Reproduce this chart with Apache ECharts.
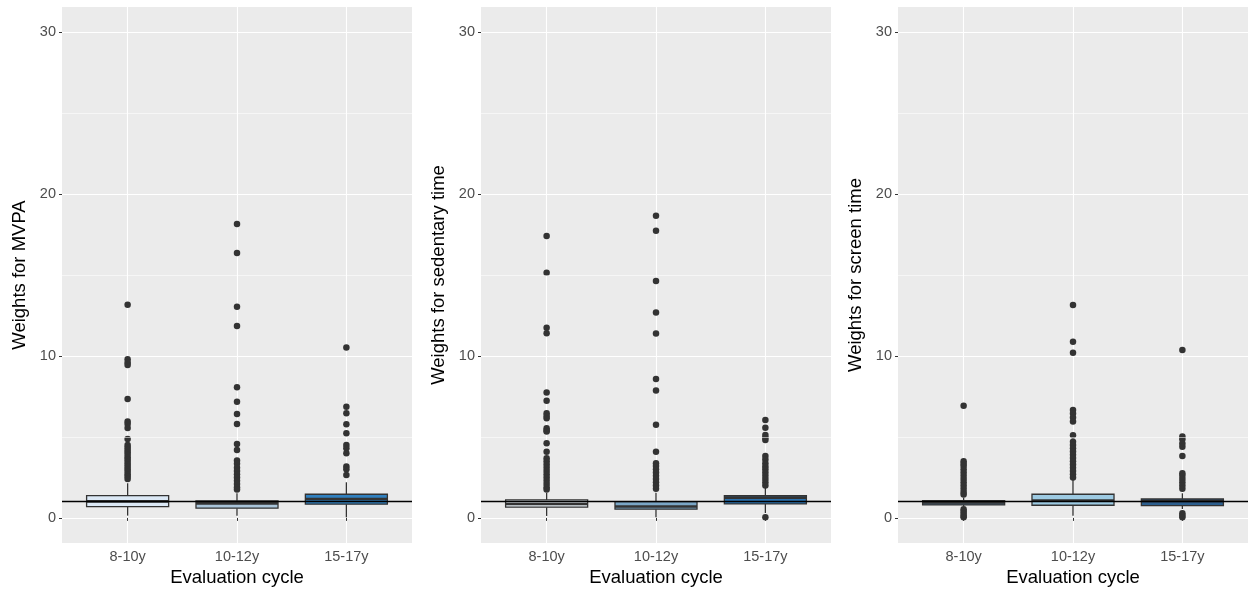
<!DOCTYPE html>
<html><head><meta charset="utf-8">
<script src="https://cdn.jsdelivr.net/npm/echarts@6/dist/echarts.min.js"></script>
<style>html,body{margin:0;padding:0;background:#fff}#c{width:1250px;height:595px}</style>
</head><body><div id="c"></div>
<script>
const categories = ['8-10y', '10-12y', '15-17y'];
const yTicks = [0, 10, 20, 30];
const yMinorLines = [5, 15, 25];
const referenceValue = 1;
const panelTitles = ['Weights for MVPA', 'Weights for sedentary time', 'Weights for screen time'];
const xTitle = 'Evaluation cycle';

// boxes: [lowerWhisker, Q1, median, Q3, upperWhisker] per category
const mvpaBoxes = [[0.14, 0.70, 1.02, 1.38, 2.14], [0.14, 0.60, 0.90, 1.05, 1.52], [0.04, 0.85, 1.17, 1.46, 2.20]];
const mvpaOutliers = [
  [13.17, 9.8, 9.6, 9.44, 7.35, 5.95, 5.8, 5.55, 4.88, 4.5, 4.35, 4.2, 4.05, 3.9, 3.75, 3.6, 3.45, 3.3, 3.15, 3.0, 2.85, 2.7, 2.55, 2.4],
  [18.15, 16.36, 13.04, 11.85, 8.07, 7.18, 6.42, 5.8, 4.57, 4.2, 3.55, 3.35, 3.1, 2.9, 2.7, 2.5, 2.3, 2.1, 1.9, 1.75],
  [10.53, 6.87, 6.46, 5.78, 5.23, 4.5, 4.3, 4.0, 3.17, 3.0, 2.65]
];
const sedBoxes = [[0.12, 0.66, 0.86, 1.11, 1.55], [0.04, 0.54, 0.70, 1.01, 1.55], [0.30, 0.86, 1.25, 1.38, 1.90]];
const sedOutliers = [
  [17.41, 15.14, 11.75, 11.4, 7.74, 7.24, 6.46, 6.3, 6.15, 5.54, 5.4, 5.33, 4.61, 4.09, 3.68, 3.5, 3.3, 3.1, 2.9, 2.7, 2.5, 2.3, 2.1, 1.9, 1.75],
  [18.66, 17.74, 14.63, 12.68, 11.38, 8.58, 7.86, 5.76, 4.09, 3.37, 3.2, 3.0, 2.8, 2.6, 2.4, 2.2, 2.0, 1.8],
  [6.05, 5.57, 5.12, 4.95, 4.81, 3.83, 3.6, 3.37, 3.17, 3.0, 2.8, 2.6, 2.4, 2.2, 2.0, 0.04]
];
const screenBoxes = [[0.70, 0.80, 0.95, 1.07, 1.25], [0.14, 0.78, 1.07, 1.46, 2.35], [0.55, 0.76, 1.05, 1.17, 1.52]];
const screenOutliers = [
  [6.93, 3.5, 3.35, 3.2, 3.0, 2.8, 2.6, 2.4, 2.2, 2.0, 1.8, 1.6, 1.45, 0.53, 0.4, 0.25, 0.12, 0.04],
  [13.15, 10.88, 10.2, 6.67, 6.45, 6.2, 5.95, 5.1, 4.71, 4.5, 4.3, 4.1, 3.9, 3.7, 3.5, 3.3, 3.1, 2.9, 2.7, 2.5],
  [10.37, 5.02, 4.85, 4.6, 4.4, 3.83, 2.76, 2.6, 2.4, 2.2, 2.0, 1.8, 0.29, 0.15, 0.04]
];

const panels = [
  {boxes: mvpaBoxes, outliers: mvpaOutliers, colors: ['#dbe8f5', '#a9c4d9', '#3080bf']},
  {boxes: sedBoxes, outliers: sedOutliers, colors: ['#e4ecf3', '#7aa6c6', '#2a72b0']},
  {boxes: screenBoxes, outliers: screenOutliers, colors: ['#4f6f8c', '#9dcae2', '#2b5d8c']}
];

const lefts = [62, 481, 898];
const FONT = 'Liberation Sans, Arial, sans-serif';
const grids = [], xAxes = [], yAxes = [], series = [];

panels.forEach((p, i) => {
  grids.push({left: lefts[i], top: 7, width: 350, height: 536, show: true, backgroundColor: '#ebebeb', borderWidth: 0});
  xAxes.push({
    gridIndex: i, type: 'value', min: 0.4, max: 3.6,
    name: xTitle, nameLocation: 'middle', nameGap: 25,
    nameTextStyle: {fontSize: 18.5, color: '#000', fontFamily: FONT},
    axisLine: {show: false},
    axisTick: {show: true, length: 3, lineStyle: {color: '#333', width: 1}, customValues: [1, 2, 3]},
    axisLabel: {customValues: [1, 2, 3], formatter: v => categories[Math.round(v) - 1], color: '#4d4d4d', fontSize: 14.5, margin: 6, fontFamily: FONT},
    splitLine: {show: true, lineStyle: {color: '#fff', width: 1.1}}
  });
  yAxes.push({
    gridIndex: i, type: 'value', min: -1.55, max: 31.55,
    name: panelTitles[i], nameLocation: 'middle', nameGap: 33,
    nameTextStyle: {fontSize: 18.5, color: '#000', fontFamily: FONT},
    axisLine: {show: false},
    axisTick: {show: true, length: 3, lineStyle: {color: '#333', width: 1}, customValues: yTicks},
    axisLabel: {customValues: yTicks, color: '#4d4d4d', fontSize: 14.5, margin: 6, fontFamily: FONT},
    splitLine: {show: true, lineStyle: {color: '#fff', width: 1.1}}
  });
  // minor grid lines
  series.push({
    type: 'scatter', xAxisIndex: i, yAxisIndex: i, data: [], z: 1, silent: true,
    markLine: {silent: true, symbol: ['none', 'none'], label: {show: false}, animation: false,
      lineStyle: {color: '#fff', width: 0.55, type: 'solid'},
      data: yMinorLines.map(v => ({yAxis: v}))}
  });
  const colors = p.colors;
  series.push({
    type: 'custom', xAxisIndex: i, yAxisIndex: i, z: 3,
    data: p.boxes.map((b, k) => [k + 1].concat(b)),
    encode: {x: 0, y: [1, 2, 3, 4, 5]},
    renderItem: function (params, api) {
      const x = api.value(0);
      const lo = api.value(1), q1 = api.value(2), med = api.value(3), q3 = api.value(4), hi = api.value(5);
      const hw = 0.375;
      const tl = api.coord([x - hw, q3]);
      const br = api.coord([x + hw, q1]);
      const mL = api.coord([x - hw, med]);
      const mR = api.coord([x + hw, med]);
      const pHi = api.coord([x, hi]), pQ3 = api.coord([x, q3]), pQ1 = api.coord([x, q1]), pLo = api.coord([x, lo]);
      const ls = {stroke: '#333333', lineWidth: 1.3};
      return {type: 'group', children: [
        {type: 'line', shape: {x1: pHi[0], y1: pHi[1], x2: pQ3[0], y2: pQ3[1]}, style: ls},
        {type: 'line', shape: {x1: pQ1[0], y1: pQ1[1], x2: pLo[0], y2: pLo[1]}, style: ls},
        {type: 'rect', shape: {x: tl[0], y: tl[1], width: br[0] - tl[0], height: br[1] - tl[1]},
          style: {fill: colors[params.dataIndex], stroke: '#333333', lineWidth: 1.3}},
        {type: 'line', shape: {x1: mL[0], y1: mL[1], x2: mR[0], y2: mR[1]}, style: {stroke: '#333333', lineWidth: 2.6}}
      ]};
    }
  });
  const pts = [];
  p.outliers.forEach((arr, k) => arr.forEach(v => pts.push([k + 1, v])));
  series.push({
    type: 'scatter', xAxisIndex: i, yAxisIndex: i, z: 4, data: pts,
    symbolSize: 6.5, itemStyle: {color: '#333333', opacity: 1}, silent: true,
    markLine: {silent: true, symbol: ['none', 'none'], label: {show: false}, animation: false,
      lineStyle: {color: '#000', width: 1.3, type: 'solid'},
      data: [{yAxis: referenceValue}]}
  });
});

const chart = echarts.init(document.getElementById('c'), null, {renderer: 'canvas'});
chart.setOption({animation: false, textStyle: {fontFamily: FONT}, grid: grids, xAxis: xAxes, yAxis: yAxes, series: series});
</script>
</body></html>
